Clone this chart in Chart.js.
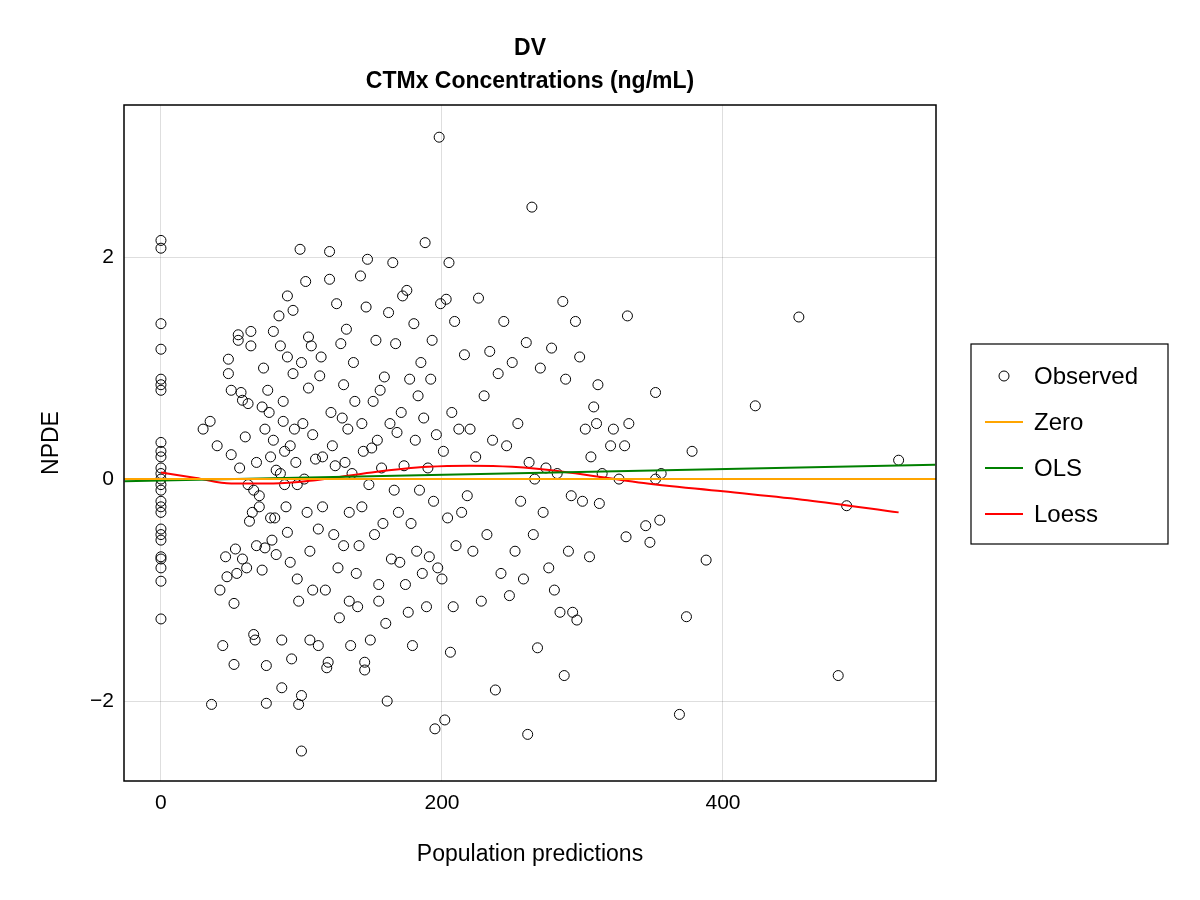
<!DOCTYPE html>
<html><head><meta charset="utf-8">
<script src="https://cdn.jsdelivr.net/npm/chart.js@4/dist/chart.umd.min.js"></script>
<style>body{margin:0;background:#fff}</style></head>
<body><canvas id="c" width="1200" height="900"></canvas>
<script>
const zeroColumnY=[2.15,2.08,1.4,1.17,0.9,0.85,0.8,0.33,0.25,0.2,0.1,0.05,0.0,-0.05,-0.1,-0.2,-0.25,-0.3,-0.45,-0.5,-0.55,-0.7,-0.72,-0.8,-0.92,-1.26];
const obsX=[36,35,30,40,42,44,46,47,48,48,50,50,52,52,53,54,55,55,56,57,58,58,60,61,62,62,63,64,64,65,66,66,67,68,68,70,70,72,72,73,74,74,75,75,76,77,78,78,79,80,80,81,82,82,84,85,85,86,86,87,87,88,88,89,90,90,90,92,92,93,94,94,95,96,97,97,98,98,99,100,100,100,101,102,103,104,105,105,106,106,107,108,108,110,112,112,113,114,115,115,117,118,119,120,120,121,122,123,124,125,126,127,128,129,130,130,131,132,133,134,134,135,136,137,138,139,140,141,142,143,143,144,145,145,146,147,148,149,150,151,152,153,154,155,155,156,157,158,159,160,161,162,163,164,165,166,167,168,169,170,171,172,173,174,175,176,177,178,179,180,181,182,183,184,185,186,187,188,189,190,191,192,193,194,195,196,197,198,199,200,201,202,203,204,205,206,207,208,209,210,212,214,216,218,220,222,224,226,228,230,232,234,236,238,240,242,244,246,248,250,252,254,256,258,260,261,262,264,265,266,268,270,272,274,276,278,280,282,284,286,287,288,290,292,293,295,296,298,300,302,305,306,308,310,311,312,314,320,322,326,330,331,332,333,345,348,352,352,355,356,369,374,378,388,423,454,482,488,525];
const obsY=[-2.03,0.52,0.45,0.3,-1.0,-1.5,-0.7,-0.88,1.08,0.95,0.8,0.22,-1.12,-1.67,-0.63,-0.85,1.3,1.25,0.1,0.78,0.71,-0.72,0.38,-0.8,0.68,-0.05,-0.38,1.33,1.2,-0.3,-0.1,-1.4,-1.45,0.15,-0.6,-0.15,-0.25,-0.82,0.65,1.0,0.45,-0.62,-1.68,-2.02,0.8,0.6,0.2,-0.35,-0.55,1.33,0.35,-0.35,-0.68,0.08,1.47,1.2,0.05,-1.88,-1.45,0.7,0.52,0.25,-0.05,-0.25,1.65,1.1,-0.48,-0.75,0.3,-1.62,1.52,0.95,0.45,0.15,-0.05,-0.9,-1.1,-2.03,2.07,-1.95,-2.45,1.05,0.5,0.0,1.78,-0.3,1.28,0.82,-0.65,-1.45,1.2,0.4,-1.0,0.18,-0.45,-1.5,0.93,1.1,-0.25,0.2,-1.0,-1.7,-1.65,2.05,1.8,0.6,0.3,-0.5,0.12,1.58,-0.8,-1.25,1.22,0.55,-0.6,0.85,0.15,1.35,0.45,-0.3,-1.1,-1.5,0.05,1.05,0.7,-0.85,-1.15,-0.6,1.83,0.5,-0.25,0.25,-1.65,-1.72,1.55,1.98,-0.05,-1.45,0.28,0.7,-0.5,1.25,0.35,-1.1,-0.95,0.8,0.1,-0.4,0.92,-1.3,-2.0,1.5,0.5,-0.72,1.95,-0.1,1.22,0.42,-0.3,-0.75,0.6,1.65,0.12,-0.95,1.7,-1.2,0.9,-0.4,-1.5,1.4,0.35,-0.65,0.75,-0.1,1.05,-0.85,0.55,2.13,-1.15,0.1,-0.7,0.9,1.25,-0.2,-2.25,0.4,-0.8,3.08,1.58,-0.9,0.25,-2.17,1.62,-0.35,1.95,-1.56,0.6,-1.15,1.42,-0.6,0.45,-0.3,1.12,-0.15,0.45,-0.65,0.2,1.63,-1.1,0.75,-0.5,1.15,0.35,-1.9,0.95,-0.85,1.42,0.3,-1.05,1.05,-0.65,0.5,-0.2,-0.9,1.23,-2.3,0.15,2.45,-0.5,0.0,-1.52,1.0,-0.3,0.1,-0.8,1.18,-1.0,0.05,-1.2,1.6,-1.77,0.9,-0.65,-0.15,-1.2,1.42,-1.27,1.1,-0.2,0.45,-0.7,0.2,0.65,0.5,0.85,-0.22,0.05,0.3,0.45,0.0,0.3,-0.52,1.47,0.5,-0.42,-0.57,0.78,0.0,-0.37,0.05,-2.12,-1.24,0.25,-0.73,0.66,1.46,-1.77,-0.24,0.17];
const olsX=[-26,551], olsY=[-0.02,0.13];
const loessX=[0,25,50,80,110,150,190,220,250,290,340,400,460,525];
const loessY=[0.06,0.01,-0.04,-0.04,-0.01,0.06,0.11,0.12,0.11,0.06,-0.03,-0.11,-0.19,-0.3];
const xTicks=[0,200,400], yTicks=[-2,0,2];
const titleLines=["DV","CTMx Concentrations (ng/mL)"];
const legendItems=[["Observed","#000","circle"],["Zero","orange","line"],["OLS","green","line"],["Loess","red","line"]];

const obs=zeroColumnY.map(y=>({x:0,y})).concat(obsX.map((x,i)=>({x,y:obsY[i]})));
const FONT="'Liberation Sans', Arial, sans-serif";
const deco={id:'deco',afterDraw(c){
  const ctx=c.ctx,a=c.chartArea;
  ctx.save();ctx.strokeStyle='#000';ctx.lineWidth=1.5;ctx.strokeRect(a.left,a.top,a.right-a.left,a.bottom-a.top);
  ctx.fillStyle='#000';ctx.textAlign='center';ctx.textBaseline='middle';ctx.font='bold 23px '+FONT;
  ctx.fillText(titleLines[0],(a.left+a.right)/2,49);ctx.fillText(titleLines[1],(a.left+a.right)/2,82);
  const lx=971,ly=344,lw=197,lh=200;
  ctx.lineWidth=1.2;ctx.strokeRect(lx,ly,lw,lh);
  ctx.textAlign='left';ctx.font='24px '+FONT;
  legendItems.forEach((it,i)=>{const y=ly+32+i*46;
    ctx.strokeStyle=it[1];
    if(it[2]==='circle'){ctx.lineWidth=1;ctx.beginPath();ctx.arc(lx+33,y,5,0,Math.PI*2);ctx.stroke();}
    else{ctx.lineWidth=2;ctx.beginPath();ctx.moveTo(lx+14,y);ctx.lineTo(lx+52,y);ctx.stroke();}
    ctx.fillStyle='#000';ctx.fillText(it[0],lx+63,y+1);});
  ctx.restore();}};
new Chart(document.getElementById('c'),{
 type:'scatter',
 data:{datasets:[
  {label:'Zero',type:'line',data:[{x:-26.3,y:0},{x:551.6,y:0}],borderColor:'orange',borderWidth:2,pointRadius:0},
  {label:'OLS',type:'line',data:olsX.map((x,i)=>({x,y:olsY[i]})),borderColor:'green',borderWidth:2,pointRadius:0},
  {label:'Loess',type:'line',data:loessX.map((x,i)=>({x,y:loessY[i]})),borderColor:'red',borderWidth:2,pointRadius:0,cubicInterpolationMode:'monotone'},
  {label:'Observed',data:obs,pointRadius:5,borderColor:'#000',borderWidth:1,backgroundColor:'rgba(0,0,0,0)'}
 ]},
 options:{responsive:false,animation:false,
  layout:{padding:{top:105,right:264,left:34,bottom:28}},
  plugins:{legend:{display:false},tooltip:{enabled:false}},
  scales:{
   x:{type:'linear',min:-26.3,max:551.6,afterBuildTicks(s){s.ticks=xTicks.map(v=>({value:v}));},
      afterFit(s){s.height=91;},
      grid:{color:'rgba(0,0,0,0.13)',drawTicks:false},border:{display:false},
      ticks:{color:'#000',font:{size:21,family:FONT},padding:10},
      title:{display:true,text:'Population predictions',color:'#000',font:{size:23,family:FONT},padding:{top:4}}},
   y:{type:'linear',min:-2.72,max:3.37,afterBuildTicks(s){s.ticks=yTicks.map(v=>({value:v}));},
      afterFit(s){s.width=90;},
      grid:{color:'rgba(0,0,0,0.13)',drawTicks:false},border:{display:false},
      ticks:{color:'#000',font:{size:21,family:FONT},padding:10,callback:v=>v<0?'\u2212'+Math.abs(v):v},
      title:{display:true,text:'NPDE',color:'#000',font:{size:23,family:FONT}}}
  }},
 plugins:[deco]});
</script></body></html>
